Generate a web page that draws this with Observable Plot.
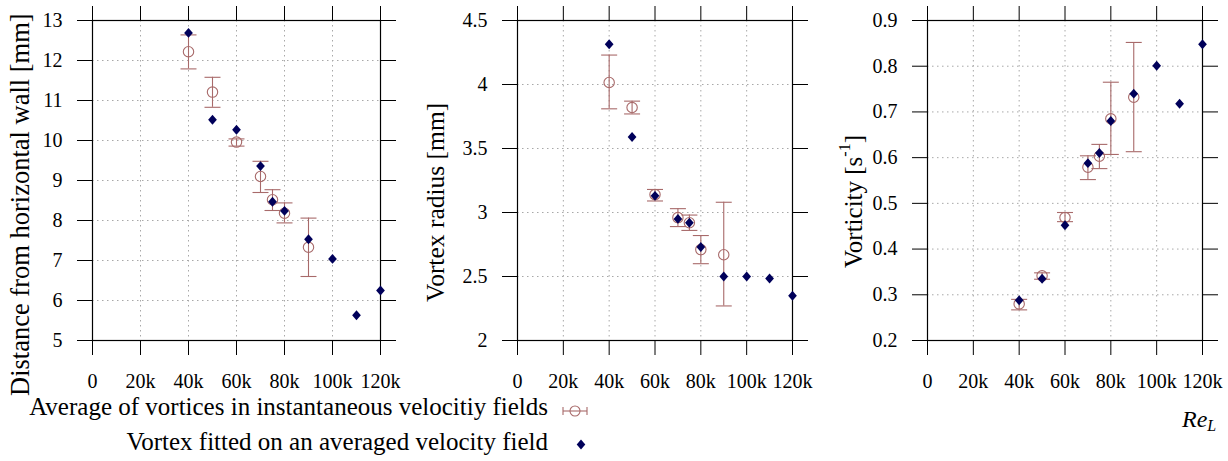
<!DOCTYPE html>
<html>
<head>
<meta charset="utf-8">
<script src="https://cdn.jsdelivr.net/npm/d3@7"></script>
<script src="https://cdn.jsdelivr.net/npm/@observablehq/plot@0.6"></script>
<style>
  html, body { margin: 0; padding: 0; background: #fff; }
  #wrap { position: relative; width: 1228px; height: 461px; overflow: hidden; font-family: "Liberation Serif", serif; color: #000; }
  #wrap svg text { font-family: "Liberation Serif", serif !important; }
  .panel { position: absolute; top: 0; }
  .ytitle { position: absolute; height: 400px; writing-mode: vertical-rl; transform: rotate(180deg); text-align: center; line-height: 25px; white-space: nowrap; font-family: "Liberation Serif", serif; }
  .legline { position: absolute; left: 0; width: 548px; text-align: right; font-size: 25px; line-height: 25px; white-space: nowrap; font-family: "Liberation Serif", serif; }
  .relabel { position: absolute; left: 1182px; top: 407px; font-size: 24px; line-height: 24px; font-style: italic; font-family: "Liberation Serif", serif; }
  .relabel sub { font-size: 16px; vertical-align: baseline; position: relative; top: 4px; }
  .ytitle sup { font-size: 16px; }
</style>
</head>
<body>
<div id="wrap"></div>
<script>
// ---- data ----
const reFit = [40000, 50000, 60000, 70000, 75000, 80000, 90000, 100000, 110000, 120000];
const fitDistance = [12.69, 10.52, 10.27, 9.36, 8.47, 8.24, 7.53, 7.04, 5.63, 6.25];
const fitRadius = [4.315, 3.59, 3.13, 2.95, 2.92, 2.73, 2.50, 2.50, 2.485, 2.35];
const fitVorticity = [0.288, 0.335, 0.452, 0.588, 0.61, 0.68, 0.74, 0.801, 0.718, 0.848];

const reAvg = [40000, 50000, 60000, 70000, 75000, 80000, 90000];
const avgDistance = [12.22, 11.21, 9.96, 9.10, 8.52, 8.18, 7.33];
const avgDistanceLo = [11.79, 10.83, 9.86, 8.70, 8.25, 7.94, 6.60];
const avgDistanceHi = [12.64, 11.58, 10.04, 9.48, 8.77, 8.44, 8.06];
const avgRadius = [4.016, 3.82, 3.14, 2.96, 2.92, 2.71, 2.67];
const avgRadiusLo = [3.81, 3.77, 3.09, 2.89, 2.86, 2.60, 2.27];
const avgRadiusHi = [4.23, 3.87, 3.18, 3.03, 2.98, 2.82, 3.08];
const avgVorticity = [0.280, 0.3415, 0.469, 0.579, 0.603, 0.685, 0.732];
const avgVorticityLo = [0.267, 0.334, 0.460, 0.552, 0.576, 0.607, 0.613];
const avgVorticityHi = [0.290, 0.348, 0.480, 0.604, 0.629, 0.765, 0.852];

const xTicks = [0, 20000, 40000, 60000, 80000, 100000, 120000];
const xTickLabels = ["0", "20k", "40k", "60k", "80k", "100k", "120k"];
const yTicksDistance = [5, 6, 7, 8, 9, 10, 11, 12, 13];
const yTicksRadius = [2, 2.5, 3, 3.5, 4, 4.5];
const yTicksVorticity = [0.2, 0.3, 0.4, 0.5, 0.6, 0.7, 0.8, 0.9];

const titles = ["Distance from horizontal wall [mm]", "Vortex radius [mm]", "Vorticity [s<sup>-1</sup>]"];
const legendLabels = ["Average of vortices in instantaneous velocitiy fields", "Vortex fitted on an averaged velocity field"];
const xAxisLabel = "Re";
const xAxisSub = "L";

// ---- styles ----
const errColor = "#a86a6a";
const fitColor = "#00005a";
const gridColor = "#a8a8a8";
const serif = "Liberation Serif, serif";

const capSymbol = {
  draw(ctx, size) { const w = Math.sqrt(size / Math.PI); ctx.moveTo(-w, 0); ctx.lineTo(w, 0); }
};
const diamondSymbol = {
  draw(ctx, size) {
    const r = Math.sqrt(size / Math.PI);
    ctx.moveTo(0, -r * 1.08); ctx.lineTo(r * 0.95, 0); ctx.lineTo(0, r * 1.08); ctx.lineTo(-r * 0.95, 0); ctx.closePath();
  }
};

function makePanel(cfg) {
  const fit = reFit.map((x, i) => ({x, y: cfg.fit[i]}));
  const avg = reAvg.map((x, i) => ({x, y: cfg.avg[i], lo: cfg.lo[i], hi: cfg.hi[i]}));
  const fmtX = d => xTickLabels[xTicks.indexOf(d)];
  const plot = Plot.plot({
    width: cfg.width,
    height: 400,
    marginLeft: cfg.marginLeft,
    marginRight: cfg.marginRight,
    marginTop: 20,
    marginBottom: 60,
    style: {fontFamily: serif, fontSize: "20px", color: "#000", background: "transparent", overflow: "visible"},
    x: {domain: [0, 120000]},
    y: {domain: cfg.yDomain},
    marks: [
      Plot.gridX(xTicks, {stroke: gridColor, strokeOpacity: 1, strokeDasharray: "1.5,3.5"}),
      Plot.gridY(cfg.yTicks, {stroke: gridColor, strokeOpacity: 1, strokeDasharray: "1.5,3.5"}),
      Plot.axisX(xTicks, {anchor: "bottom", tickSize: 15, tickPadding: 18, tickFormat: fmtX, label: null, fontSize: 20, fontFamily: serif}),
      Plot.axisX(xTicks, {anchor: "top", tickSize: 15, tickFormat: () => "", label: null}),
      Plot.axisY(cfg.yTicks, {anchor: "left", tickSize: 15, tickPadding: 15, tickFormat: d => String(d), label: null, fontSize: 20, fontFamily: serif}),
      Plot.axisY(cfg.yTicks, {anchor: "right", tickSize: 15, tickFormat: () => "", label: null}),
      Plot.frame({stroke: "#000", strokeWidth: 1.2}),
      Plot.ruleX(avg, {x: "x", y1: "lo", y2: "hi", stroke: errColor, strokeWidth: 1.1}),
      Plot.dot(avg, {x: "x", y: "lo", symbol: capSymbol, r: 8, stroke: errColor, strokeWidth: 1.1}),
      Plot.dot(avg, {x: "x", y: "hi", symbol: capSymbol, r: 8, stroke: errColor, strokeWidth: 1.1}),
      Plot.dot(avg, {x: "x", y: "y", r: 5.2, stroke: errColor, fill: "none", strokeWidth: 1.1}),
      Plot.dot(fit, {x: "x", y: "y", symbol: diamondSymbol, r: 4.6, fill: fitColor, stroke: "none"})
    ]
  });
  plot.classList.add("panel");
  plot.style.left = cfg.left + "px";
  return plot;
}

const wrap = document.getElementById("wrap");
const panels = [
  {left: 0, width: 410, marginLeft: 92, marginRight: 30, yDomain: [5, 13], yTicks: yTicksDistance,
   fit: fitDistance, avg: avgDistance, lo: avgDistanceLo, hi: avgDistanceHi, titleLeft: 8, titleTop: 5, titleSize: 26.5},
  {left: 410, width: 410, marginLeft: 107, marginRight: 28, yDomain: [2, 4.5], yTicks: yTicksRadius,
   fit: fitRadius, avg: avgRadius, lo: avgRadiusLo, hi: avgRadiusHi, titleLeft: 423, titleTop: 2, titleSize: 25.5},
  {left: 820, width: 408, marginLeft: 107, marginRight: 26, yDomain: [0.2, 0.9], yTicks: yTicksVorticity,
   fit: fitVorticity, avg: avgVorticity, lo: avgVorticityLo, hi: avgVorticityHi, titleLeft: 832, titleTop: 2, titleSize: 25}
];
panels.forEach((cfg, i) => {
  wrap.appendChild(makePanel(cfg));
  const t = document.createElement("div");
  t.className = "ytitle";
  t.style.left = cfg.titleLeft + "px";
  t.style.top = cfg.titleTop + "px";
  t.style.fontSize = cfg.titleSize + "px";
  t.innerHTML = titles[i];
  wrap.appendChild(t);
});

// legend
const leg1 = document.createElement("div");
leg1.className = "legline"; leg1.style.top = "394px"; leg1.textContent = legendLabels[0];
wrap.appendChild(leg1);
const leg2 = document.createElement("div");
leg2.className = "legline"; leg2.style.top = "429px"; leg2.textContent = legendLabels[1];
wrap.appendChild(leg2);

const ns = "http://www.w3.org/2000/svg";
const key = document.createElementNS(ns, "svg");
key.setAttribute("width", 60); key.setAttribute("height", 60);
key.style.position = "absolute"; key.style.left = "550px"; key.style.top = "395px";
key.innerHTML =
  `<g stroke="${errColor}" stroke-width="1.1" fill="none">
     <line x1="13" y1="16" x2="37" y2="16"/>
     <line x1="13" y1="12" x2="13" y2="20"/>
     <line x1="37" y1="12" x2="37" y2="20"/>
     <circle cx="25" cy="16" r="5"/>
   </g>
   <path d="M31,44.5 L35.3,49.5 L31,54.5 L26.7,49.5 Z" fill="${fitColor}"/>`;
wrap.appendChild(key);

const re = document.createElement("div");
re.className = "relabel";
re.innerHTML = xAxisLabel + "<sub>" + xAxisSub + "</sub>";
wrap.appendChild(re);
</script>
</body>
</html>
